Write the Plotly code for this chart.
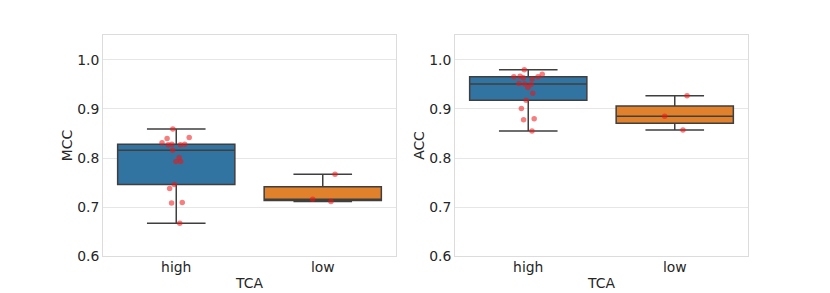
import numpy as np
import plotly.graph_objects as go

categories = ["high", "low"]
mcc_high = [0.859, 0.842, 0.840, 0.831, 0.827, 0.827, 0.828, 0.828, 0.816,
            0.801, 0.793, 0.793, 0.746, 0.738, 0.709, 0.708, 0.667]
mcc_low = [0.767, 0.716, 0.711]
acc_high = [0.980, 0.971, 0.967, 0.966, 0.964, 0.966, 0.961, 0.952, 0.951,
            0.950, 0.944, 0.932, 0.918, 0.901, 0.878, 0.880, 0.855]
acc_low = [0.927, 0.885, 0.857]
y_ticks = [0.6, 0.7, 0.8, 0.9, 1.0]
y_titles = ["MCC", "ACC"]
x_title = "TCA"

colors = ["#3274a1", "#e1812c"]
LINE = "#3f3f3f"
TXT = "#262626"
FS = 13.9


def stats(vals):
    a = np.asarray(vals)
    q1, med, q3 = np.percentile(a, [25, 50, 75])
    iqr = q3 - q1
    lo = a[a >= q1 - 1.5 * iqr].min()
    hi = a[a <= q3 + 1.5 * iqr].max()
    return q1, med, q3, lo, hi


fig = go.Figure()
panels = [(mcc_high, mcc_low), (acc_high, acc_low)]
for pi, (hi_v, lo_v) in enumerate(panels):
    xa = "x" if pi == 0 else "x2"
    ya = "y" if pi == 0 else "y2"
    for ci, vals in enumerate([hi_v, lo_v]):
        q1, med, q3, lf, uf = stats(vals)
        fig.add_trace(go.Box(
            x=[categories[ci]], q1=[q1], median=[med], q3=[q3],
            lowerfence=[lf], upperfence=[uf],
            xaxis=xa, yaxis=ya,
            width=0.8, whiskerwidth=0.5,
            fillcolor=colors[ci],
            line=dict(color=LINE, width=1.5),
            boxpoints=False,
            showlegend=False, hoverinfo="skip",
        ))
    for ci, vals in enumerate([hi_v, lo_v]):
        fig.add_trace(go.Box(
            x=[categories[ci]] * len(vals), y=vals,
            xaxis=xa, yaxis=ya,
            width=0.8, whiskerwidth=0,
            fillcolor="rgba(0,0,0,0)",
            line=dict(color="rgba(0,0,0,0)", width=0),
            boxpoints="all", jitter=0.27, pointpos=0,
            marker=dict(color="rgba(240,20,20,0.55)", size=5.5,
                        line=dict(width=0)),
            showlegend=False,
        ))

axis_common = dict(
    type="category", categoryorder="array", categoryarray=categories,
    range=[-0.5, 1.5], showgrid=False, zeroline=False, automargin=False,
    showline=True, mirror=True, linecolor="#dcdcdc", linewidth=1,
    ticks="", ticklabelstandoff=-2,
    tickfont=dict(family="DejaVu Sans", size=FS, color=TXT),
    title=dict(text=x_title, font=dict(family="DejaVu Sans", size=FS, color=TXT),
               standoff=4),
)
yaxis_common = dict(
    range=[0.6, 1.051], tickvals=y_ticks, ticktext=[f"{v:.1f}" for v in y_ticks],
    showgrid=True, gridcolor="#e6e6e6", gridwidth=1, zeroline=False,
    automargin=False,
    showline=True, mirror=True, linecolor="#dcdcdc", linewidth=1,
    ticks="", tickfont=dict(family="DejaVu Sans", size=FS, color=TXT),
)

fig.update_layout(
    width=830, height=293,
    margin=dict(l=0, r=0, t=0, b=0),
    paper_bgcolor="white", plot_bgcolor="white",
    boxmode="overlay",
    font=dict(family="DejaVu Sans", size=FS, color=TXT),
    xaxis=dict(domain=[103/830, 396/830], anchor="y", **axis_common),
    xaxis2=dict(domain=[455/830, 748/830], anchor="y2", **axis_common),
    yaxis=dict(domain=[37/293, 258/293], anchor="x",
               title=dict(text=y_titles[0], font=dict(family="DejaVu Sans", size=FS, color=TXT), standoff=1),
               **yaxis_common),
    yaxis2=dict(domain=[37/293, 258/293], anchor="x2",
                title=dict(text=y_titles[1], font=dict(family="DejaVu Sans", size=FS, color=TXT), standoff=1),
                **yaxis_common),
)

fig.write_html("out.html", config={"displayModeBar": False},
               post_script="document.body.style.margin='0px';document.body.style.overflow='hidden';")
